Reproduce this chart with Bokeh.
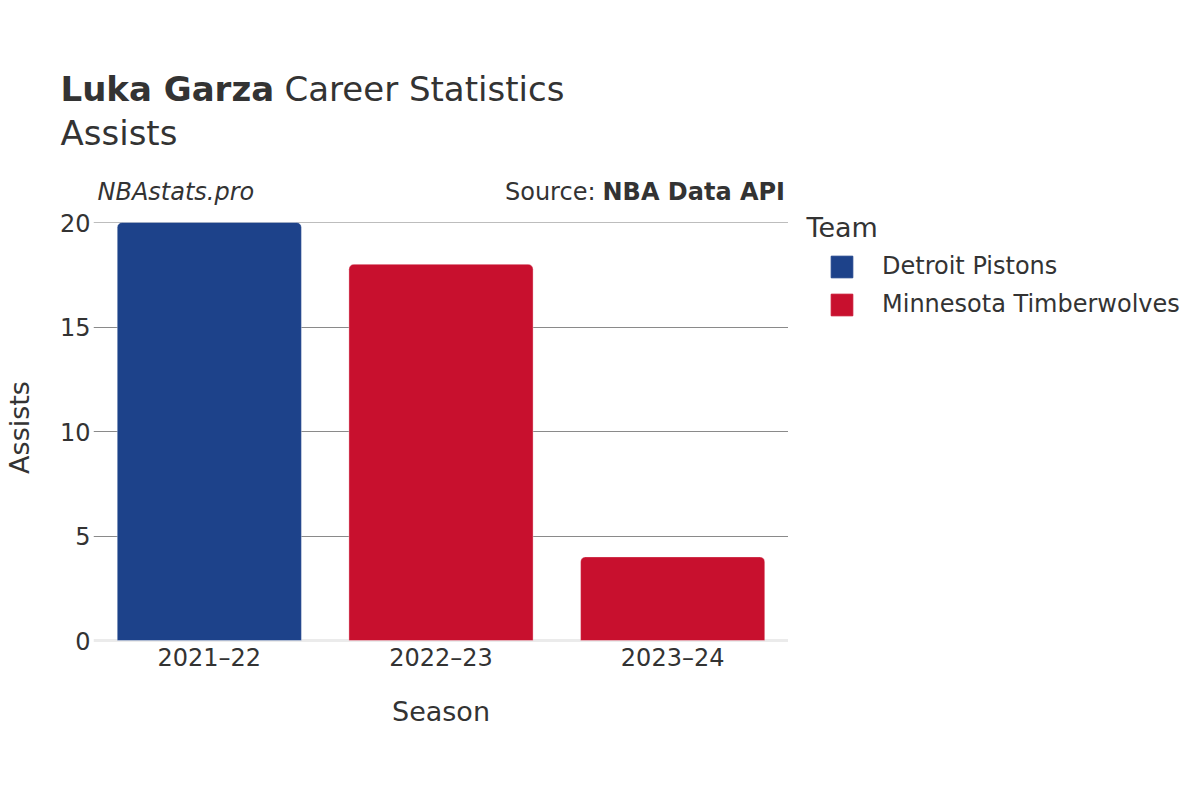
from bokeh.plotting import figure
from bokeh.layouts import column, row
from bokeh.models import (ColumnDataSource, FactorRange, Range1d, FixedTicker, Span,
                          Label, Legend, LegendItem)
from bokeh.embed import file_html
from bokeh.resources import INLINE

# ---- data ----
seasons = ["2021\u201322", "2022\u201323", "2023\u201324"]
assists = [20, 18, 4]
teams = ["Detroit Pistons", "Minnesota Timberwolves", "Minnesota Timberwolves"]
team_names = ["Detroit Pistons", "Minnesota Timberwolves"]
team_colors = {"Detroit Pistons": "#1D428A", "Minnesota Timberwolves": "#C8102E"}
y_ticks = [0, 5, 10, 15, 20]

FONT = "DejaVu Sans"
TXT = "#333333"

W, H = 1184, 784
HEAD_H = 206          # header strip (titles, credits)
MAIN_W = 788          # chart incl. left axis
FRAME_TOP, FRAME_BOT = 212, 642   # page pixels of the plotting frame
PX_PER_UNIT = 20.9
MID = 0.346           # DejaVu: baseline sits this many em below the text's middle
main_h = H - HEAD_H
B_TOP = FRAME_TOP - HEAD_H
B_BOT = main_h - (FRAME_BOT - HEAD_H)

def blank_fig(w, h, x0, x1, y0, y1, bt=0, bb=0):
    f = figure(width=w, height=h, output_backend="svg", toolbar_location=None,
               x_range=Range1d(x0, x1), y_range=Range1d(y0, y1),
               x_axis_location=None, y_axis_location=None,
               min_border_left=0, min_border_right=0, min_border_top=bt, min_border_bottom=bb)
    f.outline_line_color = None
    f.grid.visible = False
    f.background_fill_color = "white"
    f.border_fill_color = "white"
    return f

def lab(f, x, baseline, text, size, style="normal", align="left"):
    f.add_layout(Label(x=x, y=baseline - MID * size, text=text, text_font=FONT,
                       text_font_size=f"{size}px", text_font_style=style, text_color=TXT,
                       text_align=align, text_baseline="middle"))

# ---- header (page coordinates, y downwards) ----
head = blank_fig(W, HEAD_H, 0, W, HEAD_H, 0)
lab(head, 60, 100, "Luka Garza", 34, "bold")
lab(head, 284, 100, "Career Statistics", 34)
lab(head, 60, 144, "Assists", 34)
lab(head, 97, 200, "NBAstats.pro", 24, "italic")
lab(head, 595, 200, "Source:", 24, align="right")
lab(head, 602, 200, "NBA Data API", 24, "bold")

# ---- main chart ----
y0 = -(FRAME_BOT - 640) / PX_PER_UNIT
y1 = (640 - FRAME_TOP) / PX_PER_UNIT
p = figure(width=MAIN_W, height=main_h, output_backend="svg", toolbar_location=None,
           x_range=FactorRange(*seasons, range_padding=0), y_range=Range1d(y0, y1),
           min_border_left=93, min_border_right=0, min_border_top=B_TOP,
           min_border_bottom=B_BOT)
p.outline_line_color = None
p.background_fill_color = "white"
p.border_fill_color = "white"

src = ColumnDataSource(dict(x=seasons, top=assists,
                            color=[team_colors[t] for t in teams], team=teams))
p.vbar(x="x", top="top", bottom=0, width=0.795, source=src,
       fill_color="color", line_color="white", line_alpha=0.35, line_width=1,
       border_radius=(5, 5, 0, 0))

p.xgrid.visible = False
p.ygrid.ticker = FixedTicker(ticks=[5, 10, 15])
p.ygrid.grid_line_color = "#8a8a8a"
p.ygrid.grid_line_width = 1
p.ygrid.level = "underlay"
p.add_layout(Span(location=20, dimension="width", line_color="#bdbdbd", line_width=1, level="underlay"))
p.add_layout(Span(location=0, dimension="width", line_color="#ebebeb", line_width=3, level="underlay"))

p.yaxis.ticker = FixedTicker(ticks=y_ticks)
for ax in (p.xaxis[0], p.yaxis[0]):
    ax.axis_line_color = None
    ax.major_tick_line_color = None
    ax.minor_tick_line_color = None
    ax.major_tick_out = 0
    ax.major_tick_in = 0
    ax.major_label_text_font = FONT
    ax.major_label_text_font_size = "24px"
    ax.major_label_text_color = TXT
    ax.axis_label_text_font = FONT
    ax.axis_label_text_font_size = "27px"
    ax.axis_label_text_font_style = "normal"
    ax.axis_label_text_color = TXT
p.yaxis.major_label_standoff = 3
p.xaxis.major_label_standoff = 1
p.xaxis.axis_label = "Season"
p.yaxis.axis_label = "Assists"
p.xaxis.axis_label_standoff = 21
p.yaxis.axis_label_standoff = 22

# ---- legend panel: same frame rows as the chart, page coordinates (y downwards) ----
leg = blank_fig(W - MAIN_W, main_h, MAIN_W, W, FRAME_BOT, FRAME_TOP, bt=B_TOP, bb=B_BOT)
lab(leg, 806, 236, "Team", 27)
items = []
for t in team_names:
    r = leg.vbar(x=[MAIN_W], top=[FRAME_BOT], bottom=FRAME_BOT, width=0,
                 fill_color=team_colors[t], line_color=team_colors[t], visible=False)
    items.append(LegendItem(label=t, renderers=[r]))
legend = Legend(items=items, location=(40, FRAME_BOT - 318), orientation="vertical",
                border_line_color=None, background_fill_alpha=0, padding=0, margin=0,
                glyph_width=27, glyph_height=27, label_standoff=27, spacing=10,
                label_text_font=FONT, label_text_font_size="24px", label_text_color=TXT,
                label_height=28, inactive_fill_alpha=0)
leg.add_layout(legend, "center")

layout = column(head, row(p, leg, spacing=0), spacing=0)
open("out.html", "w").write(file_html(layout, INLINE))
